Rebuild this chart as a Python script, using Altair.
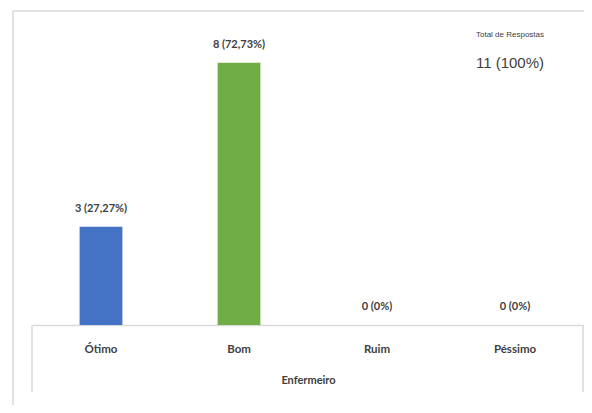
import altair as alt
import pandas as pd

categories = ["Ótimo", "Bom", "Ruim", "Péssimo"]
counts = [3, 8, 0, 0]
labels = ["3 (27,27%)", "8 (72,73%)", "0 (0%)", "0 (0%)"]
colors = ["#4472C4", "#70AD47", "#A5A5A5", "#FFC000"]
total_title = "Total de Respostas"
total_value = "11 (100%)"
axis_title = "Enfermeiro"

df = pd.DataFrame({"cat": categories, "val": counts, "label": labels, "color": colors})

W, H = 552, 295
FONT = "Lato"

x_enc = alt.X(
    "cat:N",
    sort=categories,
    scale=alt.Scale(paddingInner=0.69, paddingOuter=0.345),
    axis=alt.Axis(
        title=axis_title,
        labelAngle=0,
        labelFont=FONT,
        labelFontWeight="bold",
        labelFontSize=11.5,
        labelColor="#404040",
        labelPadding=18,
        ticks=False,
        domainColor="#d9d9d9",
        domainWidth=1.5,
        titleFont=FONT,
        titleFontWeight="bold",
        titleFontSize=11,
        titleColor="#404040",
        titlePadding=20,
    ),
)
y_enc = alt.Y("val:Q", scale=alt.Scale(domain=[0, 9]), axis=None)

base = alt.Chart(df)

bars = base.mark_bar().encode(x=x_enc, y=y_enc, color=alt.Color("color:N", scale=None))
texts = base.mark_text(
    dy=-18, baseline="middle", font=FONT, fontWeight="bold", fontSize=11, color="#404040"
).encode(x=x_enc, y=y_enc, text="label:N")

one = alt.Data(values=[{"a": 1}])
frame_top = alt.Chart(one).mark_rule(color="#d9d9d9", strokeWidth=1.5).encode(
    x=alt.value(-19), x2=alt.value(W + 4), y=alt.value(-19)
)
frame_left = alt.Chart(one).mark_rule(color="#d9d9d9", strokeWidth=1.5).encode(
    x=alt.value(-19), y=alt.value(-19), y2=alt.value(H + 100)
)
left_rule = alt.Chart(one).mark_rule(color="#d9d9d9", strokeWidth=1.5).encode(
    x=alt.value(0), y=alt.value(H), y2=alt.value(H + 67)
)
right_rule = alt.Chart(one).mark_rule(color="#d9d9d9", strokeWidth=1.5).encode(
    x=alt.value(W - 1), y=alt.value(H), y2=alt.value(H + 67)
)
t1 = alt.Chart(one).mark_text(font="Liberation Sans", fontSize=8, color="#404040", baseline="middle").encode(
    x=alt.value(478), y=alt.value(5), text=alt.value(total_title)
)
t2 = alt.Chart(one).mark_text(font="Liberation Sans", fontSize=15, color="#404040", baseline="middle").encode(
    x=alt.value(478), y=alt.value(33), text=alt.value(total_value)
)

chart = (
    alt.layer(frame_top, frame_left, bars, texts, left_rule, right_rule, t1, t2)
    .properties(
        width=W,
        height=H,
        autosize=alt.AutoSizeParams(type="none"),
        padding={"left": 24, "top": 22, "right": 0, "bottom": 80},
        background="white",
    )
    .configure_view(stroke=None)
)

chart.save("out.html", embed_options={"renderer": "svg", "actions": False})
